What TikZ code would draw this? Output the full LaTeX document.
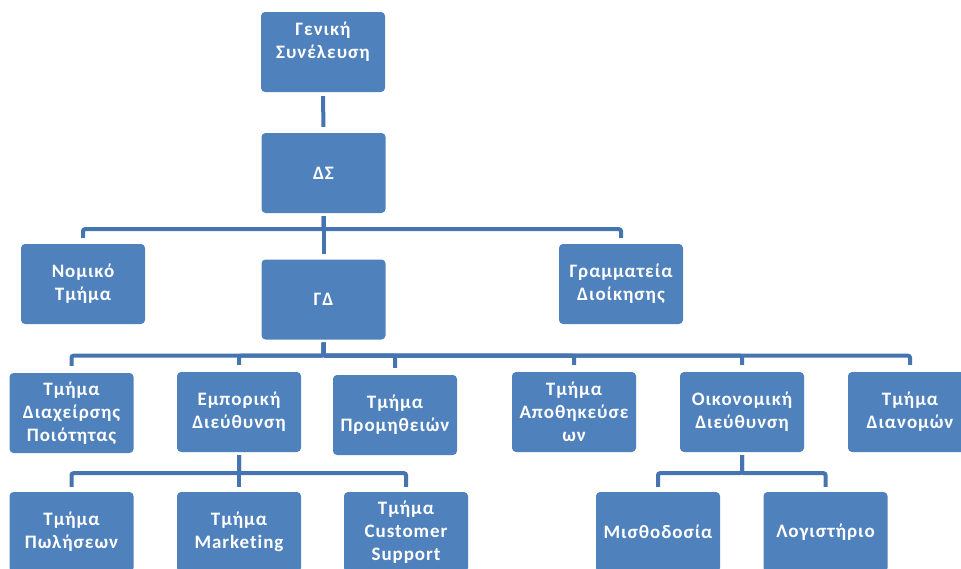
\documentclass[tikz,border=0pt]{standalone}
\usepackage{fontspec}
\setmainfont{Carlito}[LetterSpace=5, Ligatures=NoCommon]
\begin{document}
\begin{tikzpicture}[x=1pt,y=-1pt,
  box/.style={rectangle, rounded corners=4pt, fill=boxblue, draw=none,
    minimum width=124pt, minimum height=80pt, inner sep=1pt, text=white,
    align=center, font=\fontsize{19}{23}\selectfont\bfseries},
  conn/.style={draw=linkblue, line width=4pt, rounded corners=2pt}]
\definecolor{boxblue}{HTML}{4F81BD}
\definecolor{linkblue}{HTML}{4674B0}
\useasboundingbox (0,0) rectangle (961,568);

% top of the hierarchy
\node[box] (gs) at (323,52) {Γενική\\Συνέλευση\\ };
\node[box] (ds) at (323.5,173) {ΔΣ};
\node[box] (nom) at (83,284) {Νομικό\\Τμήμα};
\node[box] (gd) at (323.5,299.5) {ΓΔ};
\node[box] (gram) at (621,284) {Γραμματεία\\Διοίκησης};

% departments under the general director
\node[box] (dq) at (71.5,413) {Τμήμα\\Διαχείρσης\\Ποιότητας};
\node[box] (emp) at (239,412) {Εμπορική\\Διεύθυνση};
\node[box] (prom) at (395,415) {Τμήμα\\Προμηθειών};
\node[box] (apo) at (574,412) {Τμήμα\\Αποθηκεύσε\\ων};
\node[box] (oik) at (742,412) {Οικονομική\\Διεύθυνση};
\node[box] (dian) at (910,412) {Τμήμα\\Διανομών};

% sub-departments
\node[box] (pol) at (71.5,532) {Τμήμα\\Πωλήσεων};
\node[box] (mark) at (239,532) {Τμήμα\\Marketing};
\node[box] (cs) at (406,532) {Τμήμα\\Customer\\Support};
\node[box] (mis) at (658,532) {Μισθοδοσία};
\node[box] (log) at (825.5,532) {Λογιστήριο};

% connectors
\draw[conn, shorten <=4pt, shorten >=6pt] (gs.south) -- (ds.north);
\draw[conn, shorten <=3pt, shorten >=5pt] (ds.south) -- (gd.north);
\draw[conn, shorten <=3pt, shorten >=6pt] (ds.south) -- ++(0,16) -| (nom.north);
\draw[conn, shorten <=3pt, shorten >=6pt] (ds.south) -- ++(0,16) -| (gram.north);

\foreach \n in {dq,emp,prom,apo,oik,dian}
  \draw[conn, shorten <=3pt, shorten >=7pt] (gd.south) -- ++(0,16) -| (\n.north);

\foreach \n in {pol,mark,cs}
  \draw[conn, shorten <=3pt, shorten >=5pt] (emp.south) -- ++(0,21) -| (\n.north);

\foreach \n in {mis,log}
  \draw[conn, shorten <=3pt, shorten >=5pt] (oik.south) -- ++(0,21) -| (\n.north);
\end{tikzpicture}
\end{document}
